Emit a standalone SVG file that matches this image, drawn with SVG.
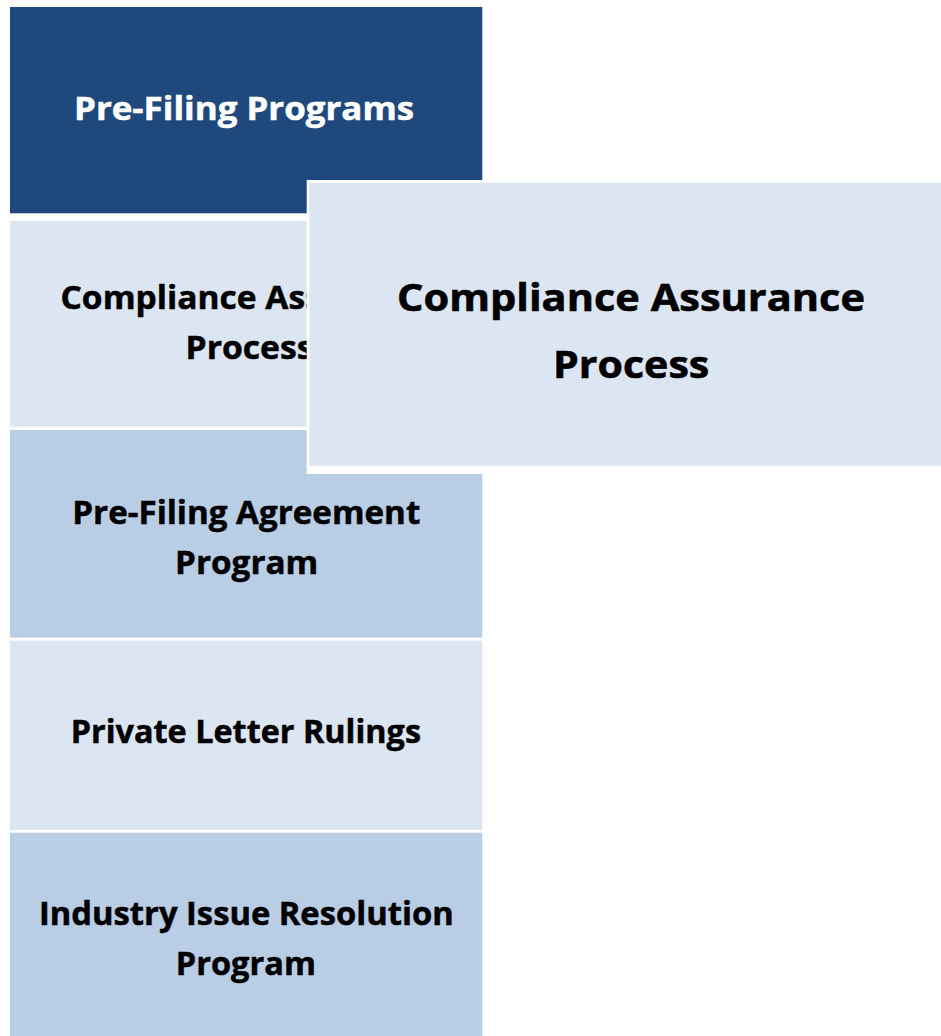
<svg xmlns="http://www.w3.org/2000/svg" width="941" height="1036" viewBox="0 0 941 1036">
  <style>
    .dark { fill: #1F497D; }
    .light { fill: #DCE6F2; }
    .mid { fill: #B9CDE5; }
    .lbl { font-family: "Open Sans", Lato, "Liberation Sans", sans-serif; font-weight: bold; font-size: 31.5px; fill: #000000; stroke: #000000; stroke-width: 0.5px; }
    .lbl-white { fill: #FFFFFF; stroke: #FFFFFF; font-size: 32px; }
    .lbl-big { font-size: 38px; stroke-width: 0.6px; }
  </style>

  <rect x="0" y="0" width="941" height="1036" fill="#FFFFFF"/>

  <!-- left column of programs -->
  <g id="pre-filing-programs">
    <rect class="dark" x="10" y="7" width="472.3" height="206.3"/>
    <text class="lbl lbl-white" x="74" y="120" textLength="340" lengthAdjust="spacingAndGlyphs">Pre-Filing Programs</text>
  </g>

  <g id="compliance-assurance-process-tile">
    <rect class="light" x="10" y="221" width="472.3" height="205.7"/>
    <text class="lbl" x="60.5" y="309.3" textLength="378" lengthAdjust="spacingAndGlyphs">Compliance Assurance</text>
    <text class="lbl" x="185.5" y="359.3" textLength="128" lengthAdjust="spacingAndGlyphs">Process</text>
  </g>

  <g id="pre-filing-agreement-program">
    <rect class="mid" x="10" y="430" width="472.3" height="207.7"/>
    <text class="lbl" x="72.3" y="524.3" textLength="348" lengthAdjust="spacingAndGlyphs">Pre-Filing Agreement</text>
    <text class="lbl" x="175" y="574.3" textLength="143.3" lengthAdjust="spacingAndGlyphs">Program</text>
  </g>

  <g id="private-letter-rulings">
    <rect class="light" x="10" y="640.7" width="472.3" height="189.3"/>
    <text class="lbl" x="70.7" y="743.3" textLength="350.3" lengthAdjust="spacingAndGlyphs">Private Letter Rulings</text>
  </g>

  <g id="industry-issue-resolution-program">
    <rect class="mid" x="10" y="832.7" width="472.3" height="210"/>
    <text class="lbl" x="39" y="925" textLength="414.7" lengthAdjust="spacingAndGlyphs">Industry Issue Resolution</text>
    <text class="lbl" x="175.7" y="975" textLength="140.3" lengthAdjust="spacingAndGlyphs">Program</text>
  </g>

  <!-- enlarged callout laid over the column -->
  <g id="compliance-assurance-process">
    <rect x="306.7" y="180" width="650" height="294" fill="#FFFFFF"/>
    <rect class="light" x="309.3" y="182.7" width="650" height="283"/>
    <text class="lbl lbl-big" x="397" y="310.7" textLength="468" lengthAdjust="spacingAndGlyphs">Compliance Assurance</text>
    <text class="lbl lbl-big" x="553" y="378" textLength="156.3" lengthAdjust="spacingAndGlyphs">Process</text>
  </g>
</svg>
